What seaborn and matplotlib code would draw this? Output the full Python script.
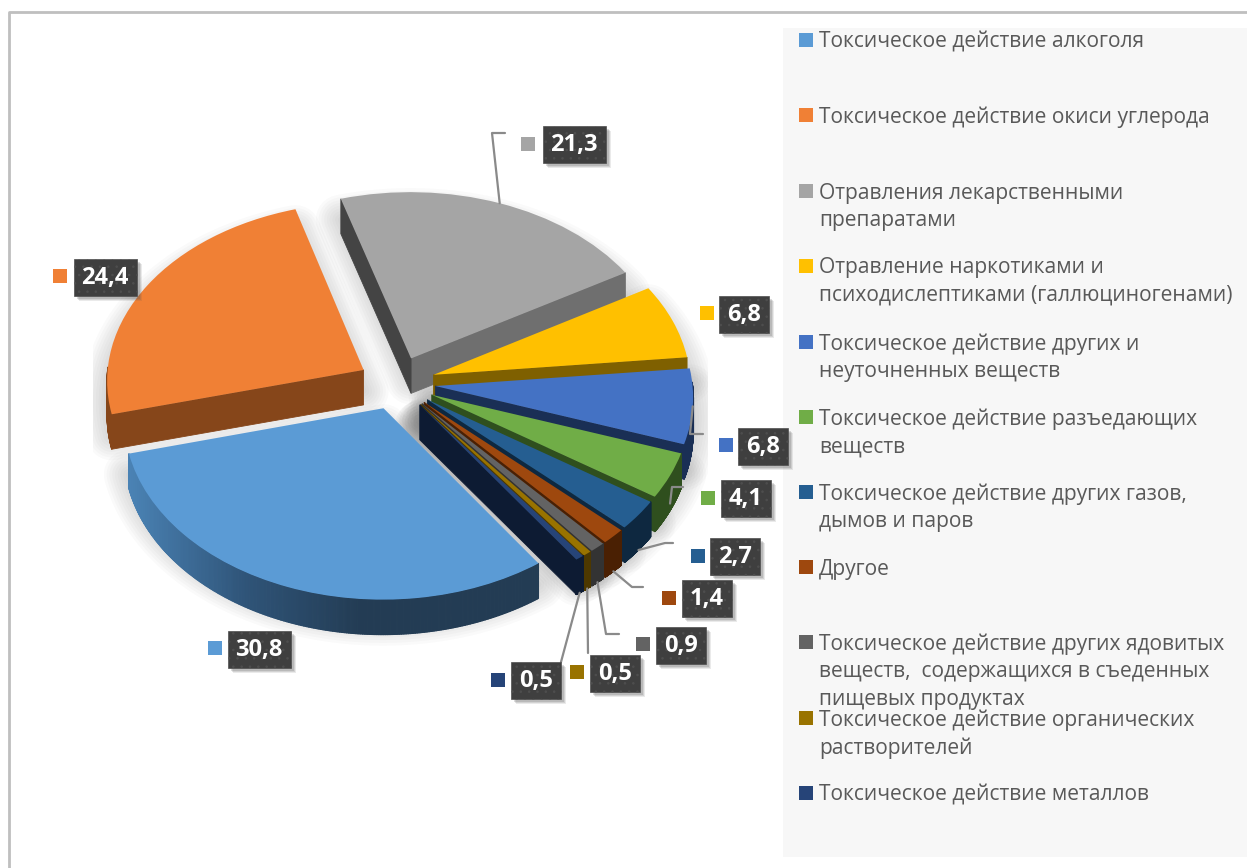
# 3D-looking exploded pie of poisoning causes, with dark value tags and a side list
import numpy as np
import matplotlib
matplotlib.use("Agg")
import matplotlib.pyplot as plt
from matplotlib.collections import PolyCollection
from matplotlib.patches import Rectangle
from matplotlib.transforms import Transform
import seaborn as sns

categories = ["Токсическое действие алкоголя",
              "Токсическое действие окиси углерода",
              "Отравления лекарственными\nпрепаратами",
              "Отравление наркотиками и\nпсиходислептиками (галлюциногенами)",
              "Токсическое действие других и\nнеуточненных веществ",
              "Токсическое действие разъедающих\nвеществ",
              "Токсическое действие других газов,\nдымов и паров",
              "Другое",
              "Токсическое действие других ядовитых\nвеществ,  содержащихся в съеденных\nпищевых продуктах",
              "Токсическое действие органических\nрастворителей",
              "Токсическое действие металлов"]
values = [30.8, 24.4, 21.3, 6.8, 6.8, 4.1, 2.7, 1.4, 0.9, 0.5, 0.5]

top_colors = ["#5b9bd5", "#f08035", "#a5a5a5", "#ffc000", "#4472c4", "#70ad47",
              "#255e91", "#9e480e", "#636363", "#997300", "#264478"]
side_colors = ["#233c54", "#86461a", "#6f6f6f", "#7f6000", "#1a2f55", "#2f4f1e",
               "#0e2840", "#4a2003", "#333333", "#4d3800", "#0d1b33"]
cut_colors = ["#233c54", "#86461a", "#444444", "#7f6000", "#1a2f55", "#2f4f1e",
              "#0e2840", "#4a2003", "#333333", "#4d3800", "#0d1b33"]

# tag centre, colour square, leader elbow and end (image pixels)
tag_xy = [(259, 649), (105, 277), (574, 144), (744, 314), (763, 446), (746, 498),
          (735, 556), (707, 598), (681, 645), (615, 673), (536, 680)]
square_xy = [(215, 648), (60, 276), (528, 144), (707, 313), (726, 445), (708, 498),
             (698, 556), (669, 598), (643, 644), (577, 672), (498, 680)]
leaders = [None, None, [(492, 133), (505, 133)], None, [(690, 434), (703, 434)],
           [(672, 487), (683, 487)], [(665, 543), (673, 543)], [(632, 587), (643, 587)],
           [(606, 634), (619, 634)], [(588, 653)], [(561, 662)]]
leader_drop = [0, 0, 0, 0, 0, 0.8, 1, 1, 1, 1, 1]
legend_y = [40, 115, 191, 266, 342, 417, 492, 567, 642, 718, 793]

CX, CY, RX, RY, TILT, DEPTH = 397, 383, 257, 178, 0.055, 35


def project(u, v):
    f = 1 / (1 + TILT * v)
    return CX + RX * u * f, CY - RY * v * f


class Tilted(Transform):
    input_dims = output_dims = 2

    def transform_non_affine(self, values):
        x, y = project(values[:, 0], values[:, 1])
        return np.column_stack([x, y])


def rim(w, thetas):
    t = np.radians(thetas)
    return project(w.center[0] + w.r * np.cos(t), w.center[1] + w.r * np.sin(t))


sns.set_theme(style="white")
plt.rcParams["font.family"] = ["Open Sans", "DejaVu Sans"]
plt.rcParams["hatch.linewidth"] = 0.6
palette = sns.color_palette(top_colors)

fig, ax = plt.subplots(figsize=(12.47, 8.68), dpi=100)
fig.subplots_adjust(0, 0, 1, 1)

wedges, _ = ax.pie(values, colors=palette, explode=[0.15] * len(values), startangle=-55,
                   counterclock=False, radius=1, center=(0, 0))
ax.set_aspect("auto")
ax.set_xlim(0, 1247)
ax.set_ylim(868, 0)
ax.set_frame_on(False)

# frame and list background
ax.plot([9, 9, 1247], [868, 12, 12], color="#bfbfbf", lw=2, zorder=1)
ax.add_patch(Rectangle((783, 28), 464, 829, fc="#f7f7f7", ec="none", zorder=1))

shadow_clip = Rectangle((93, 185), 615, 466, transform=ax.transData)
arc_blend = sns.blend_palette(["#4a82b4", "#2f5478", side_colors[0]], 120)

order = sorted(range(len(values)), key=lambda i: -np.sin(np.radians((wedges[i].theta1 + wedges[i].theta2) / 2)))
for z, i in enumerate(order):
    w = wedges[i]
    base = 10 + z * 3
    thetas = np.linspace(w.theta1, w.theta2, 300)
    rx, ry = rim(w, thetas)
    ax_, ay_ = project(*w.center)

    # soft shadow under the whole block
    px = np.r_[ax_, rx]
    py = np.r_[ay_, ry] + DEPTH * 0.6
    for lw in range(4, 40, 4):
        sh = ax.fill(px, py, fc="#7a7a7a", ec="#7a7a7a", lw=lw, alpha=0.034, zorder=2,
                     joinstyle="round")[0]
        sh.set_clip_path(shadow_clip)

    # outer side as thin strips, only the front half of the rim shows
    front = np.where(np.sin(np.radians(thetas[:-1])) < 0.02)[0]
    quads = [[(rx[k], ry[k]), (rx[k + 1], ry[k + 1]), (rx[k + 1], ry[k + 1] + DEPTH), (rx[k], ry[k] + DEPTH)]
             for k in front]
    if i == 0:
        idx = np.clip(((rx[front] - 130) / 230 * 119).astype(int), 0, 119)
        cols = [arc_blend[k] for k in idx]
    else:
        cols = [side_colors[i]] * len(quads)
    if quads:
        ax.add_collection(PolyCollection(quads, facecolors=cols, edgecolors=cols, linewidths=0.8, zorder=base))

    # radial cut faces, only the ones that face the viewer
    mx, my = rim(w, [(w.theta1 + w.theta2) / 2])
    for theta, col in ((w.theta1, side_colors[i]), (w.theta2, cut_colors[i])):
        ex, ey = rim(w, [theta])
        dx, dy = ex[0] - ax_, ey[0] - ay_
        nx, ny = -dy, dx
        if nx * (mx[0] - ax_) + ny * (my[0] - ay_) > 0:
            nx, ny = -nx, -ny
        if ny > 0:
            ax.fill([ax_, ex[0], ex[0], ax_], [ay_, ey[0], ey[0] + DEPTH, ay_ + DEPTH],
                    fc=col, ec=col, lw=0.6, zorder=base + 1)

    w.set_transform(Tilted() + ax.transData)
    w.set_zorder(base + 2)
    w.set_edgecolor("none")

# leaders
for i, pts in enumerate(leaders):
    if pts is None:
        continue
    w = wedges[i]
    sx, sy = rim(w, [(w.theta1 + w.theta2) / 2])
    xs = [sx[0]] + [p[0] for p in pts]
    ys = [sy[0] + DEPTH * leader_drop[i]] + [p[1] for p in pts]
    ax.plot(xs, ys, color="#8a8a8a", lw=1.6, zorder=60)

# value tags, box is a fixed size patch with a soft offset shadow behind it
for i, v in enumerate(values):
    x, y = tag_xy[i]
    label = f"{v:.1f}".replace(".", ",")
    bw = 63 if len(label) > 3 else 50
    bh = 37
    for off, a in ((5, 0.12), (4, 0.16), (3, 0.2)):
        ax.add_patch(Rectangle((x - bw / 2 + off, y - bh / 2 + off), bw, bh, fc="#555555", ec="none",
                               alpha=a, zorder=69))
    ax.add_patch(Rectangle((x - bw / 2, y - bh / 2), bw, bh, fc="#3f3f3f", ec="#4e4e4e", lw=0.5,
                           hatch="..", zorder=70))
    ax.text(x, y + 1, label, color="white", fontsize=17, fontweight="bold",
            ha="center", va="center", zorder=71)
    ax.scatter(*square_xy[i], marker="s", s=100, color=palette[i], linewidths=0, zorder=70)

# side list
for i, name in enumerate(categories):
    ax.scatter(806, legend_y[i], marker="s", s=88, color=palette[i], linewidths=0, zorder=5)
    ax.text(819, legend_y[i] - 8.5, name, color="#595959", fontsize=15.1, va="top", ha="left",
            linespacing=1.4, zorder=5)

plt.savefig("out.png", dpi=100)
plt.close()
